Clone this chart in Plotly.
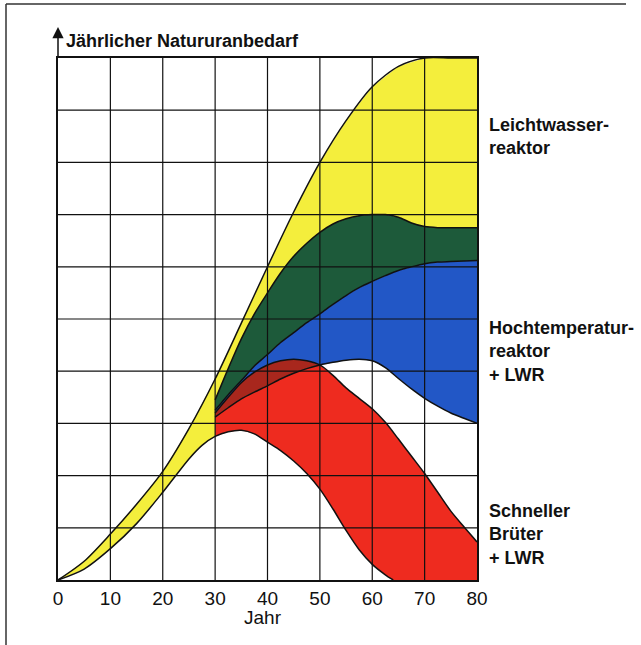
import numpy as np
import plotly.graph_objects as go

# ---------------- data ----------------
X_TICKS = [0, 10, 20, 30, 40, 50, 60, 70, 80]
X_TICK_LABELS = ["0", "10", "20", "30", "40", "50", "60", "70", "80"]
Y_GRID = [1, 2, 3, 4, 5, 6, 7, 8, 9]

# Leichtwasserreaktor: upper envelope
lwr_x = [0, 5, 10, 15, 20, 25, 30, 35, 40, 45, 50, 55, 60, 65, 70, 75, 80]
lwr_y = [0, 0.36, 0.88, 1.45, 2.08, 2.9, 3.85, 4.92, 6.0, 7.05, 8.0, 8.8, 9.45, 9.84, 10, 10, 10]

# lower envelope (LWR band lower edge, continuing as lower edge of Brüter band)
low_x = [0, 5, 10, 15, 20, 25, 27.5, 30, 32.5, 35, 37.5, 40, 42.5, 45, 47.5, 50,
         52.5, 55, 57.5, 60, 62.5, 64, 70, 80]
low_y = [0, 0.21, 0.6, 1.08, 1.68, 2.32, 2.58, 2.75, 2.84, 2.87, 2.8, 2.64, 2.48, 2.28, 2.04, 1.74,
         1.36, 0.95, 0.58, 0.3, 0.1, 0, 0, 0]

# curves starting in year 30
mid_x = [30, 32.5, 35, 37.5, 40, 42.5, 45, 47.5, 50, 52.5, 55, 57.5, 60, 62.5, 65, 67.5, 70,
         72.5, 75, 77.5, 80]
htr_top = [3.45, 4.05, 4.62, 5.1, 5.5, 5.88, 6.2, 6.45, 6.66, 6.82, 6.92, 6.98, 7.0, 7.0, 6.95, 6.84, 6.77,
           6.75, 6.75, 6.75, 6.75]
htr_mid = [3.25, 3.55, 3.82, 4.1, 4.32, 4.55, 4.74, 4.93, 5.1, 5.28, 5.45, 5.6, 5.72, 5.83, 5.93, 6.0, 6.06,
           6.09, 6.1, 6.11, 6.12]
htr_low = [3.12, 3.3, 3.47, 3.6, 3.72, 3.85, 3.96, 4.05, 4.12, 4.17, 4.21, 4.23, 4.2, 4.07, 3.86, 3.66, 3.48,
           3.33, 3.2, 3.1, 3.0]
fbr_top = [3.2, 3.5, 3.78, 3.98, 4.12, 4.2, 4.23, 4.2, 4.12, 3.92, 3.68, 3.48, 3.28, 3.02, 2.7, 2.37, 2.04,
           1.68, 1.32, 1.02, 0.73]

LABELS = ["Leichtwasser-<br>reaktor", "Hochtemperatur-<br>reaktor<br>+ LWR", "Schneller<br>Brüter<br>+ LWR"]
Y_TITLE = "Jährlicher Natururanbedarf"
X_TITLE = "Jahr"

# ---------------- styling ----------------
YELLOW = "#f4ee3c"
GREEN = "#1d5a3a"
BLUE = "#2257c6"
RED = "#ee2b1f"
DARKRED = "#a8271d"
FONT = "Liberation Sans"
INK = "#111"

W, H = 641, 645
ML, MR, MT, MB = 58, 164, 58, 65
PW, PH = W - ML - MR, H - MT - MB


def px(xp):
    return (xp - ML) / PW


def py(yp):
    return (H - MB - yp) / PH


lx = np.array(low_x, float)
ly = np.array(low_y, float)
mx = np.array(mid_x, float)
g = np.array(htr_top, float)
b = np.array(htr_mid, float)
c = np.array(htr_low, float)
r = np.array(fbr_top, float)

fig = go.Figure()


def band(xs, ys, color):
    fig.add_trace(go.Scatter(x=xs, y=ys, fill="toself", fillcolor=color, mode="lines",
                             line=dict(width=0), hoverinfo="skip", showlegend=False))


# yellow: LWR band (upper envelope down to lower envelope before year 30, down to HTR after)
left = lx <= 30
band(list(lwr_x) + list(mx[::-1]) + list(lx[left][::-1]),
     list(lwr_y) + list(g[::-1]) + list(ly[left][::-1]), YELLOW)
# green: HTR upper band
band(list(mx) + list(mx[::-1]), list(g) + list(b[::-1]), GREEN)
# blue: HTR lower band
band(list(mx) + list(mx[::-1]), list(b) + list(c[::-1]), BLUE)
# red: Schneller Brüter band
right = lx >= 30
band(list(mx) + list(lx[right][::-1]), list(r) + list(ly[right][::-1]), RED)
# dark red: overlap of Brüter band and blue band
top = np.minimum(r, b)
mask = top >= c
band(list(mx[mask]) + list(mx[mask][::-1]), list(top[mask]) + list(c[mask][::-1]), DARKRED)

# boundary lines
n_low = int(np.argmax(ly[7:] == 0)) + 8
for xs, ys in [(lwr_x, lwr_y), (low_x[:n_low], low_y[:n_low]), (mid_x, htr_top), (mid_x, htr_mid),
               (mid_x, htr_low), (mid_x, fbr_top)]:
    fig.add_trace(go.Scatter(x=xs, y=ys, mode="lines",
                             line=dict(color=INK, width=1.5, shape="spline", smoothing=0.8),
                             hoverinfo="skip", showlegend=False))

shapes = []
for v in X_TICKS[1:-1]:
    shapes.append(dict(type="line", xref="x", yref="y", x0=v, x1=v, y0=0, y1=10,
                       line=dict(color=INK, width=1.2), layer="above"))
for v in Y_GRID:
    shapes.append(dict(type="line", xref="x", yref="y", x0=0, x1=80, y0=v, y1=v,
                       line=dict(color=INK, width=1.2), layer="above"))
# page frame (top and left)
shapes.append(dict(type="line", xref="paper", yref="paper", x0=px(6), x1=px(626), y0=py(4), y1=py(4),
                   line=dict(color="#333", width=1.5)))
shapes.append(dict(type="line", xref="paper", yref="paper", x0=px(6), x1=px(6), y0=py(4), y1=py(645),
                   line=dict(color="#333", width=1.5)))

annotations = [
    dict(x=0, y=py(27), xref="paper", yref="paper", text="", showarrow=True, ax=0, ay=32,
         axref="pixel", ayref="pixel", arrowhead=2, arrowsize=1.5, arrowwidth=1.5, arrowcolor=INK),
    dict(x=px(64), y=py(41), xref="paper", yref="paper", text=Y_TITLE, showarrow=False,
         xanchor="left", yanchor="middle", font=dict(family=FONT, size=18, color=INK, weight="bold")),
    dict(x=px(263), y=py(617), xref="paper", yref="paper", text=X_TITLE, showarrow=False,
         xanchor="center", yanchor="middle", font=dict(family=FONT, size=19, color=INK)),
]
for txt, yc in zip(LABELS, [136.7, 351.5, 534.9]):
    annotations.append(dict(x=px(487), y=py(yc), xref="paper", yref="paper", text=txt, showarrow=False,
                            xanchor="left", yanchor="middle", align="left",
                            font=dict(family=FONT, size=18, color=INK, weight="bold")))

fig.update_layout(
    width=W, height=H, margin=dict(l=ML, r=MR, t=MT, b=MB, pad=0),
    paper_bgcolor="white", plot_bgcolor="white",
    shapes=shapes, annotations=annotations, showlegend=False,
    xaxis=dict(range=[0, 80], tickvals=X_TICKS, ticktext=X_TICK_LABELS, showgrid=False, zeroline=False,
               showline=True, mirror=True, linecolor=INK, linewidth=1.5, ticks="",
               tickfont=dict(family=FONT, size=19, color=INK), layer="above traces",
               fixedrange=True),
    yaxis=dict(range=[0, 10], showticklabels=False, showgrid=False, zeroline=False, showline=True,
               mirror=True, linecolor=INK, linewidth=1.5, ticks="", layer="above traces",
               fixedrange=True),
)

fig.write_html("out.html", config={"displayModeBar": False},
               post_script="document.body.style.margin='0px';document.body.style.overflow='hidden';")
